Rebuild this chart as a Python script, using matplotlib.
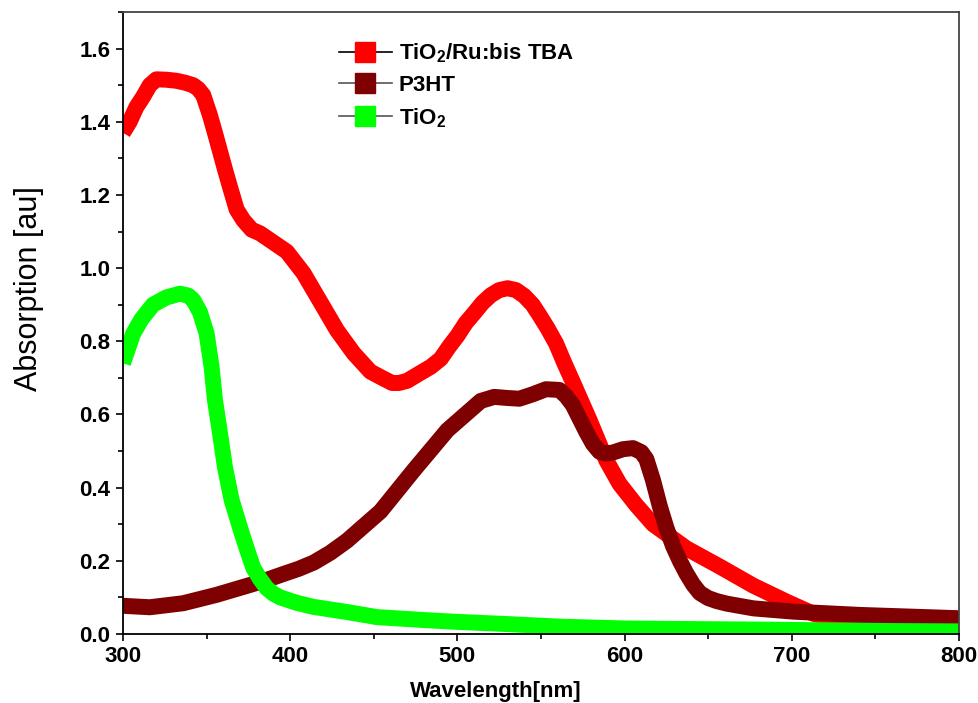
import matplotlib
matplotlib.use("Agg")
import matplotlib.pyplot as plt
from matplotlib.lines import Line2D
from matplotlib.ticker import MultipleLocator, FormatStrFormatter

plt.rcParams['font.family'] = ['Liberation Sans', 'DejaVu Sans']
plt.rcParams['mathtext.fontset'] = 'custom'
plt.rcParams['mathtext.bf'] = 'Liberation Sans:bold'
plt.rcParams['mathtext.rm'] = 'Liberation Sans:bold'
plt.rcParams['mathtext.default'] = 'bf'

# Absorption spectra (wavelength in nm, absorbance in au)
ru_wl = [300, 304, 308, 312, 316, 320, 326, 332, 337, 342, 345, 348, 352, 355,
         358, 361, 364, 368, 372, 377, 382, 390, 398, 408, 418, 428, 438, 448,
         455, 461, 465, 470, 478, 484, 490, 495, 500, 505, 510, 515, 520, 525,
         530, 535, 540, 545, 549, 554, 559, 564, 569, 579, 589, 597, 607, 617,
         637, 657, 677, 697, 713, 741, 761, 780, 800]
ru_abs = [1.37, 1.40, 1.44, 1.468, 1.50, 1.516, 1.515, 1.512, 1.507, 1.50, 1.49,
          1.473, 1.418, 1.37, 1.32, 1.27, 1.222, 1.16, 1.131, 1.105, 1.095, 1.07,
          1.045, 0.986, 0.908, 0.83, 0.767, 0.717, 0.70, 0.686, 0.686, 0.692,
          0.714, 0.73, 0.752, 0.785, 0.815, 0.85, 0.877, 0.905, 0.926, 0.94,
          0.945, 0.94, 0.924, 0.90, 0.872, 0.835, 0.794, 0.74, 0.689, 0.585,
          0.475, 0.41, 0.352, 0.30, 0.234, 0.184, 0.132, 0.088, 0.055, 0.027,
          0.02, 0.017, 0.015]

p3ht_wl = [300, 316, 336, 356, 376, 386, 396, 405, 414, 424, 434, 454, 474, 494,
           514, 522, 530, 537, 545, 553, 561, 565, 569, 577, 581, 585, 589, 593,
           599, 605, 610, 613, 617, 621, 625, 629, 633, 637, 641, 645, 650, 655,
           661, 677, 701, 741, 800]
p3ht_abs = [0.077, 0.073, 0.084, 0.107, 0.134, 0.148, 0.164, 0.178, 0.195, 0.222,
            0.255, 0.335, 0.448, 0.557, 0.637, 0.648, 0.645, 0.643, 0.655, 0.669,
            0.667, 0.65, 0.626, 0.553, 0.52, 0.498, 0.493, 0.496, 0.505, 0.508,
            0.497, 0.478, 0.42, 0.35, 0.29, 0.24, 0.20, 0.165, 0.135, 0.112,
            0.098, 0.09, 0.083, 0.07, 0.061, 0.052, 0.043]

tio2_wl = [300, 303, 306, 311, 318, 326, 334, 339, 342, 346, 350, 353, 355, 358,
           361, 365, 371, 375, 378, 382, 386, 390, 394, 404, 414, 434, 452, 480,
           500, 530, 561, 600, 650, 681, 720, 760, 800]
tio2_abs = [0.74, 0.78, 0.82, 0.86, 0.90, 0.92, 0.93, 0.925, 0.913, 0.88, 0.822,
            0.73, 0.64, 0.55, 0.456, 0.366, 0.276, 0.22, 0.18, 0.15, 0.125, 0.11,
            0.10, 0.085, 0.074, 0.06, 0.046, 0.038, 0.033, 0.027, 0.02, 0.015,
            0.013, 0.012, 0.010, 0.008, 0.007]

labels = ['TiO$_2$/Ru:bis TBA', 'P3HT', 'TiO$_2$']
colors = ['#ff0000', '#7f0000', '#00ff00']
handle_line_colors = ['black', '#555555', '#555555']

fig = plt.figure(figsize=(9.79, 7.03), dpi=100)
ax = fig.add_axes([0.1256, 0.0982, 0.854, 0.8847])

lw = 11.5
for wl, ab, c in zip([ru_wl, p3ht_wl, tio2_wl], [ru_abs, p3ht_abs, tio2_abs], colors):
    ax.plot(wl, ab, color=c, lw=lw, solid_joinstyle='round', solid_capstyle='butt')

ax.set_xlim(300, 800)
ax.set_ylim(0, 1.7)
ax.xaxis.set_major_locator(MultipleLocator(100))
ax.xaxis.set_minor_locator(MultipleLocator(50))
ax.yaxis.set_major_locator(MultipleLocator(0.2))
ax.yaxis.set_minor_locator(MultipleLocator(0.1))
ax.yaxis.set_major_formatter(FormatStrFormatter('%.1f'))

ax.tick_params(which='major', direction='out', length=5, width=1.2, pad=4,
               labelsize=16)
ax.tick_params(which='minor', direction='out', length=3.5, width=1.2)
for lab in ax.get_xticklabels() + ax.get_yticklabels():
    lab.set_fontweight('bold')

for side in ['left', 'bottom']:
    ax.spines[side].set_linewidth(1.3)
    ax.spines[side].set_color('black')
for side in ['top', 'right']:
    ax.spines[side].set_linewidth(1.3)
    ax.spines[side].set_color('#444444')

ax.set_xlabel('Wavelength[nm]', fontsize=16, fontweight='bold')
ax.xaxis.set_label_coords(0.446, -0.075)
ax.set_ylabel('Absorption [au]', fontsize=22)
ax.yaxis.set_label_coords(-0.094, 0.556)

handles = [Line2D([], [], color=lc, lw=1.2, marker='s', markersize=14,
                  markerfacecolor=c, markeredgecolor=c)
           for c, lc in zip(colors, handle_line_colors)]
ax.legend(handles, labels, loc='upper left', bbox_to_anchor=(0.234, 0.985),
          frameon=False, prop={'size': 16, 'weight': 'bold'},
          handlelength=2.4, handletextpad=0.3, labelspacing=0.45,
          borderaxespad=0.5)

fig.savefig('out.png', dpi=100)
